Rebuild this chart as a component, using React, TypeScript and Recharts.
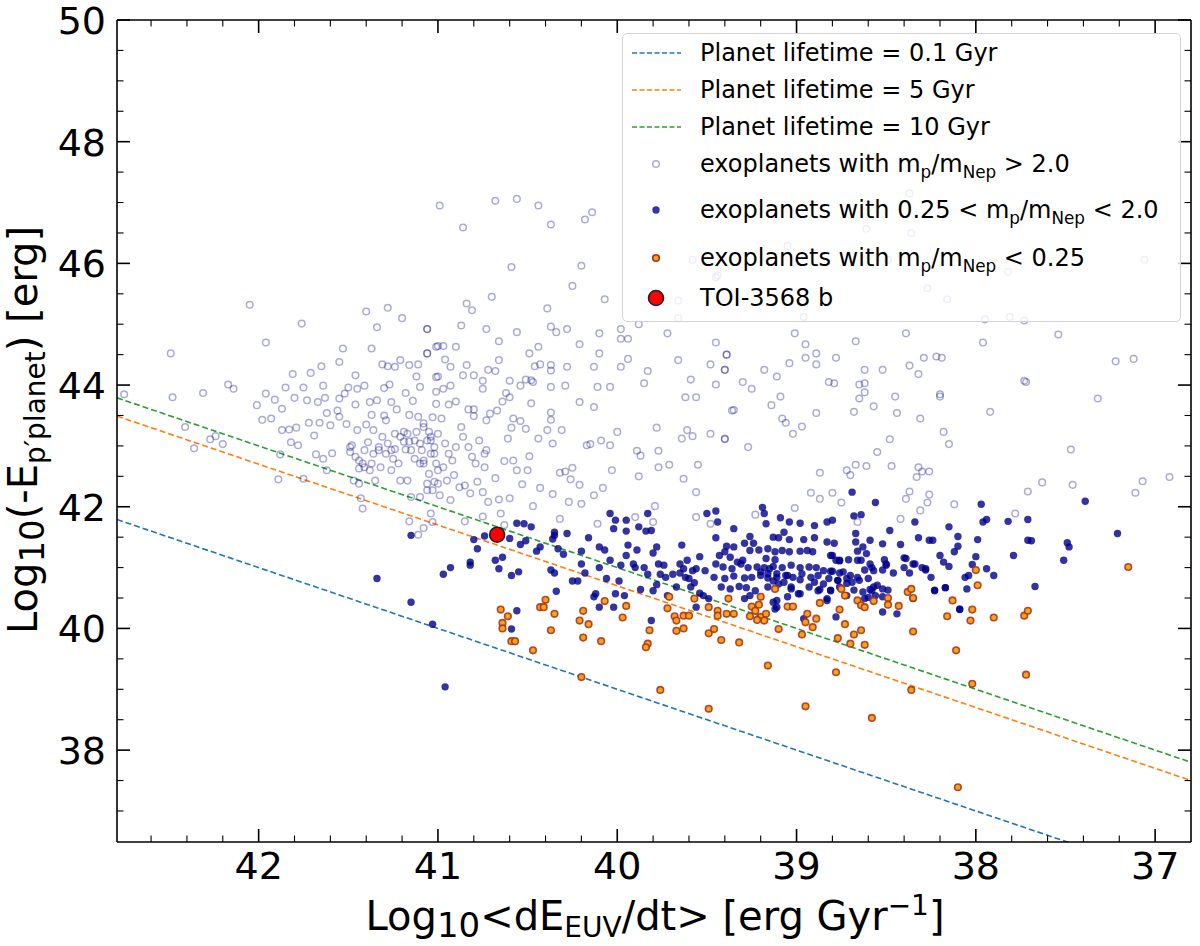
import React from "react";
import { ScatterChart, Scatter, XAxis, YAxis, ReferenceLine } from "recharts";

const FONT = "'DejaVu Sans', sans-serif";

const X_DOMAIN: [number, number] = [36.8, 42.79];
const Y_DOMAIN: [number, number] = [36.49, 50];
const xMajor = [42, 41, 40, 39, 38, 37];
const xTicks = [42.6, 42.4, 42.2, 42, 41.8, 41.6, 41.4, 41.2, 41, 40.8, 40.6, 40.4, 40.2, 40, 39.8, 39.6, 39.4, 39.2, 39, 38.8, 38.6, 38.4, 38.2, 38, 37.8, 37.6, 37.4, 37.2, 37];
const yMajor = [38, 40, 42, 44, 46, 48, 50];
const yTicks = [37, 37.5, 38, 38.5, 39, 39.5, 40, 40.5, 41, 41.5, 42, 42.5, 43, 43.5, 44, 44.5, 45, 45.5, 46, 46.5, 47, 47.5, 48, 48.5, 49, 49.5, 50];

// planet lifetime lines: end points
const lifetimeLines = [
  { label: "Planet lifetime = 0.1 Gyr", color: "#1f77b4", from: [42.79, 41.79], to: [36.8, 35.8] },
  { label: "Planet lifetime = 5 Gyr", color: "#ff7f0e", from: [42.79, 43.49], to: [36.8, 37.5] },
  { label: "Planet lifetime = 10 Gyr", color: "#2ca02c", from: [42.79, 43.79], to: [36.8, 37.8] },
];

// m_p/m_Nep > 2.0
const lightPts: [number, number][] = [
  [42.75,43.85],[42.49,44.52],[42.48,43.8],[42.41,43.31],[42.36,42.96],[42.31,43.87],[42.27,43.11],[42.24,43.16],[42.2,43.03],[42.17,44.01],
  [42.14,43.94],[42.05,45.32],[42.01,43.67],[41.98,43.43],[41.96,44.7],[41.96,43.86],[41.93,43.45],[41.91,43.76],[41.89,42.45],[41.88,42.86],
  [41.87,43.26],[41.87,43.61],[41.85,43.96],[41.83,43.27],[41.82,43.06],[41.81,44.18],[41.8,43.79],[41.79,43.3],[41.78,43.01],[41.76,45.01],
  [41.75,43.96],[41.75,42.46],[41.73,43.75],[41.72,43.38],[41.71,44.2],[41.69,43.17],[41.68,42.86],[41.67,43.72],[41.66,43.38],[41.65,44.31],
  [41.64,43.99],[41.64,42.79],[41.63,43.79],[41.62,42.6],[41.62,43.54],[41.6,43.34],[41.59,42.88],[41.56,43.58],[41.55,44.38],[41.55,43.78],
  [41.55,43.48],[41.53,44.6],[41.52,43.86],[41.51,43.36],[41.5,43.96],[41.49,42.9],[41.48,43.01],[41.47,42.43],[41.46,44.16],[41.46,43.68],
  [41.45,43.94],[41.45,43.26],[41.44,42.76],[41.44,42.38],[41.43,42.14],[41.42,41.97],[41.41,42.65],[41.41,43.99],[41.4,45.21],[41.4,43.35],
  [41.39,43.06],[41.38,43.72],[41.37,44.6],[41.37,43.51],[41.36,43.26],[41.35,42.43],[41.34,44.95],[41.34,43.75],[41.33,42.98],[41.31,44.34],
  [41.3,43.95],[41.3,43.5],[41.29,42.87],[41.28,45.27],[41.28,44.31],[41.27,44.01],[41.26,43.72],[41.24,43.2],[41.24,44.3],[41.23,43.6],
  [41.21,44.41],[41.2,45.1],[41.19,43.23],[41.18,43.87],[41.18,42.94],[41.16,44.33],[41.16,43.51],[41.14,43.74],[41.13,43.09],[41.12,44.14],
  [41.11,43.48],[41.11,44.34],[41.1,43.97],[41.1,42.71],[41.08,43.37],[41.06,44.92],[41.06,44.52],[41.04,43.15],[41.03,43.47],[41.01,44.63],
  [41.01,44.13],[41.04,41.89],
  [41.49,42.98],[41.46,42.82],[41.44,42.63],[41.42,42.71],[41.41,42.93],[41.38,42.6],[41.36,42.87],[41.33,42.93],[41.31,43.15],[41.29,43.42],
  [41.28,43.04],[41.26,42.93],[41.25,42.79],[41.24,42.95],[41.22,42.71],[41.21,43.15],[41.19,43.07],[41.17,43.2],[41.16,43.07],[41.15,42.93],
  [41.13,42.79],[41.12,43.23],[41.1,43.04],[41.09,42.93],[41.08,42.76],[41.06,43.09],[41.05,43.23],[41.04,42.87],[41.02,42.98],[41.01,42.71],
  [41.17,42.43],[41.21,42.43],[41.26,42.6],[41.32,42.65],[41.37,42.71],[41.06,42.38],[41.03,42.27],[41.0,42.38],[41.1,42.16],[41.15,42.16],
  [40.99,46.95],[40.86,46.59],[40.68,47.03],[40.56,47.06],[40.44,46.95],[40.37,46.64],[40.18,46.72],[40.14,46.84],[40.59,45.94],[40.2,45.96],
  [40.25,45.63],[40.7,45.45],[40.84,45.34],[40.81,45.23],[40.39,45.26],[40.07,45.41],[41.06,44.92],[40.87,44.98],[40.73,44.92],[40.56,44.87],
  [40.37,44.96],[40.34,44.87],[40.28,44.92],[40.1,44.85],[39.98,44.92],[39.88,45.0],[39.72,44.85],[41.0,44.64],[40.97,44.64],[40.9,44.63],
  [40.66,44.72],[40.44,44.63],[40.21,44.67],[39.98,44.76],[39.94,44.76],[39.45,44.7],[41.06,44.52],[40.96,44.42],[40.93,44.3],[40.84,44.33],
  [40.66,44.41],[40.49,44.52],[40.46,44.31],[40.43,44.34],[40.37,44.33],[40.37,44.24],[40.28,44.3],[40.13,44.3],[40.1,44.52],[39.98,44.3],
  [39.94,44.43],[39.83,44.23],[39.66,44.41],[39.48,44.34],[39.4,44.25],[39.39,44.5],[41.0,44.14],[40.86,44.16],[40.8,44.16],[40.72,44.25],
  [40.68,44.23],[40.75,44.07],[40.75,43.94],[40.6,44.07],[40.54,43.99],[40.51,44.09],[40.48,44.08],[40.47,44.05],[40.37,43.97],[40.29,43.99],
  [40.11,43.97],[40.04,43.97],[39.85,44.03],[39.59,44.09],[39.45,44.01],[39.62,43.8],[39.56,43.8],[39.36,43.58],[41.01,43.89],[40.97,43.94],
  [40.93,43.99],[41.01,43.69],[40.94,43.68],[40.9,43.73],[40.62,43.87],[40.6,43.8],[40.64,43.73],[40.67,43.58],[40.73,43.42],[40.71,43.53],
  [40.83,43.6],[40.8,43.6],[40.8,43.49],[40.48,43.7],[40.37,43.55],[40.37,43.43],[40.21,43.72],[40.13,43.64],[40.58,43.45],[40.54,43.41],
  [40.59,43.3],[40.51,43.28],[40.44,43.12],[40.39,43.26],[40.31,43.26],[40.36,43.04],[40.17,43.01],[40.15,43.03],[40.09,43.09],[40.04,43.01],
  [40.0,43.23],[39.89,42.92],[39.87,42.84],[39.78,43.3],[39.77,42.92],[39.64,43.12],[39.61,43.26],[39.58,43.16],[39.48,43.2],[39.4,43.12],
  [39.77,42.65],[39.71,42.69],[39.55,42.69],[39.63,42.46],[39.88,42.5],[40.03,42.6],[40.25,42.64],[40.29,42.58],[40.32,42.56],[40.21,42.36],
  [40.26,42.45],[40.36,42.21],[40.43,42.31],[40.5,42.6],[40.56,42.6],[40.49,42.83],[40.58,42.76],[40.61,43.12],[40.68,42.47],[40.63,42.75],
  [40.53,42.37],[40.08,42.31],[40.13,42.19],[40.2,42.05],[40.27,42.08],[39.56,42.24],[39.79,42.01],[40.6,42.14],[40.66,42.12],[40.47,42.01],
  [40.72,42.08],
  [41.08,43.31],[41.04,43.09],[41.0,43.2],[40.98,43.45],[40.96,43.04],[40.94,42.87],[40.92,42.76],[40.9,42.98],[40.87,43.31],[40.86,43.15],
  [40.83,42.98],[40.81,42.82],[40.79,42.71],[40.77,43.09],[40.74,42.87],[41.08,42.71],[41.05,42.54],[41.02,42.41],[41.0,42.6],[40.97,42.65],
  [40.95,42.43],[40.91,42.52],[40.88,42.32],[40.85,42.35],[40.82,42.22],[40.78,42.41],[40.75,42.24],[41.06,42.27],[40.99,42.19],[40.93,42.11],
  [40.74,42.65],[40.73,42.93],[41.02,42.87],
  [39.01,44.85],[38.39,44.85],[37.96,44.7],[37.54,44.83],[38.67,44.72],[39.39,44.5],[38.95,44.67],[38.89,44.52],[38.95,44.45],[38.78,44.45],
  [39.04,44.36],[38.89,44.34],[38.29,44.45],[38.22,44.47],[38.19,44.45],[38.37,44.32],[38.32,44.18],[37.22,44.39],[37.12,44.43],[39.4,44.25],
  [39.18,44.25],[39.11,44.14],[38.62,44.25],[38.52,44.25],[39.3,44.05],[39.25,43.94],[38.82,44.05],[38.79,44.03],[38.65,44.01],[38.62,44.03],
  [38.62,43.88],[38.65,43.78],[39.09,43.81],[38.45,43.81],[38.2,43.85],[38.2,43.81],[37.73,44.07],[37.72,44.05],[37.32,43.78],[39.35,43.59],
  [39.14,43.67],[38.89,43.54],[38.68,43.56],[38.57,43.65],[38.44,43.54],[38.31,43.45],[37.92,43.56],[39.08,43.45],[39.06,43.38],[38.97,43.32],
  [39.02,43.2],[39.4,43.11],[39.27,42.98],[38.18,43.23],[38.15,43.03],[38.48,43.11],[38.55,42.9],[37.47,42.94],[38.67,42.69],[38.61,42.67],
  [38.47,42.67],[38.72,42.6],[38.7,42.52],[38.87,42.56],[38.32,42.65],[38.3,42.58],[38.26,42.58],[38.33,42.49],[37.63,42.4],[37.46,42.36],
  [37.07,42.42],[36.92,42.49],[38.92,42.23],[38.87,42.13],[38.8,42.23],[38.75,42.07],[38.37,42.25],[38.39,42.13],[38.26,42.2],[38.27,42.07],
  [38.31,41.94],[38.12,42.04],[37.71,42.25],[37.11,42.23],[37.78,41.89],[39.01,41.98],[39.23,41.87],[38.42,41.8],
  [38.96,45.12],[37.95,45.08],[37.81,45.12],[37.73,45.06],
  [41.16,41.76],[41.11,41.54],[41.08,41.65],[41.03,41.75],[40.85,41.76],[40.75,41.84],[40.65,41.89],[40.63,41.7],[40.32,41.8],[40.11,41.72],
  [39.9,41.83],[39.8,41.75],[39.56,41.83],[39.48,41.72],[38.66,41.75],
  [38.37,47.15],[38.61,46.57],[38.36,46.5],[39.05,46.29],[39.58,46.06],[38.49,46.06],[37.82,45.86],[37.06,46.06],[38.27,45.59],[38.16,45.41],
  [39.66,45.39],[39.45,45.77],[39.44,45.8],[39.66,45.1],
];

// 0.25 < m_p/m_Nep < 2.0
const darkPts: [number, number][] = [
  [41.15,41.53],[40.8,41.46],[40.78,41.31],[40.74,41.52],[40.82,41.09],[40.82,41.04],[40.93,41.0],[40.97,40.89],[40.68,41.12],[40.66,40.98],
  [40.64,41.17],[40.59,40.87],[40.55,40.93],[40.6,41.48],[40.56,41.73],[40.52,41.72],[40.48,41.67],[40.54,41.38],[40.51,41.44],[40.43,41.34],
  [40.45,41.27],[40.35,41.58],[40.35,41.53],[40.36,41.47],[40.28,41.56],[40.33,41.31],[40.3,41.22],[40.37,40.96],[40.35,40.91],[40.34,40.61],
  [40.25,40.78],[40.22,40.78],[40.2,41.27],[40.2,41.06],[40.16,41.49],[40.18,40.91],[40.13,40.52],[40.12,40.57],[40.1,40.35],[40.1,41.0],
  [40.1,41.34],[40.07,41.29],[40.06,40.82],[40.04,41.12],[40.02,40.35],[40.01,40.57],[40.04,41.89],[40.01,41.78],[39.95,41.78],[40.02,41.64],
  [39.95,41.6],[39.95,41.2],[39.94,41.37],[39.89,41.29],[39.98,41.04],[39.91,41.06],[39.99,40.78],[39.96,40.54],[39.88,41.67],[39.84,41.6],
  [39.83,41.89],[39.81,41.61],[39.9,41.0],[39.85,41.0],[39.83,40.89],[39.87,40.64],[39.8,40.62],[39.8,41.24],[39.78,41.34],[39.77,41.06],
  [39.74,41.04],[39.78,40.72],[39.76,40.89],[39.72,40.54],[39.81,40.13],[39.73,40.84],[39.69,40.89],[39.67,40.68],[39.64,41.37],[39.65,41.06],
  [39.63,40.98],[39.65,40.91],[39.62,40.84],[39.6,40.82],[39.61,41.12],[39.58,40.95],[39.56,40.98],[39.54,41.18],[39.57,40.75],[39.59,40.68],
  [39.51,40.95],[39.54,40.58],[39.5,41.89],[39.52,40.54],[39.56,40.35],[39.49,40.49],[41.15,40.43],[41.03,40.07],[40.96,39.04],[40.56,40.29],
  [40.59,39.99],[41.34,40.82],
  [39.45,41.93],[39.44,41.75],[39.19,41.99],[39.18,41.89],[39.17,41.72],[39.09,41.82],[39.04,41.75],[38.98,41.73],[38.9,41.69],[38.83,41.75],
  [38.8,41.78],[38.69,42.24],[38.68,41.85],[38.64,41.87],[38.56,42.07],[38.34,41.75],[38.48,41.61],[38.42,41.38],[38.32,41.49],[38.26,41.45],
  [38.24,41.45],[38.15,41.67],[38.1,41.51],[38.1,41.35],[38.12,41.26],[37.97,42.04],[37.94,41.79],[37.96,41.75],[37.82,41.76],[37.71,41.79],
  [37.99,41.46],[38.0,41.18],[38.02,41.05],[38.2,41.2],[38.18,41.09],[38.15,41.02],[37.79,41.2],[37.94,40.98],[37.9,40.87],[38.06,40.84],
  [38.04,40.87],[38.17,40.67],[38.23,40.62],[38.05,40.65],[38.09,40.32],[39.35,41.64],[39.45,41.49],[39.26,41.51],[39.29,41.4],[39.24,41.4],
  [39.39,41.35],[39.35,41.34],[39.13,41.5],[39.1,41.49],[39.07,41.58],[39.04,41.46],[38.96,41.46],[38.9,41.49],[38.83,41.42],[38.79,41.4],
  [38.67,41.56],[38.67,41.42],[38.63,41.34],[38.59,41.45],[38.52,41.39],[39.26,41.28],[39.21,41.29],[39.16,41.31],[39.12,41.26],[39.08,41.28],
  [39.04,41.26],[39.43,41.2],[39.4,41.26],[39.37,41.17],[39.33,41.09],[39.3,41.12],[38.98,41.27],[38.94,41.28],[38.91,41.26],[38.81,41.2],
  [38.78,41.12],[38.76,41.12],[38.66,41.27],[38.61,41.23],[38.66,41.12],[38.51,41.13],[38.5,41.06],[38.39,41.15],[38.35,41.06],[38.4,41.0],
  [38.3,41.0],[38.28,40.96],[38.37,40.91],[38.46,40.91],
  [39.45,41.06],[39.41,41.01],[39.36,40.98],[39.31,41.06],[39.27,41.0],[39.22,41.01],[39.18,41.0],[39.13,41.02],[39.08,41.0],[39.03,41.04],
  [38.98,41.0],[38.93,41.01],[38.89,41.0],[38.85,40.95],[38.8,40.94],[38.76,40.91],[38.7,40.87],[38.66,40.84],[38.62,40.96],[38.58,41.0],
  [38.52,40.96],[39.46,40.84],[39.4,40.82],[39.35,40.86],[39.29,40.83],[39.25,40.84],[39.2,40.87],[39.16,40.83],[39.11,40.84],[39.06,40.87],
  [39.02,40.84],[38.98,40.8],[38.92,40.84],[38.88,40.87],[38.82,40.82],[38.77,40.79],[38.72,40.82],[38.6,40.82],[38.57,40.68],
  [39.42,40.68],[39.37,40.65],[39.32,40.69],[39.28,40.67],[39.23,40.62],[39.16,40.68],[39.1,40.73],[39.03,40.65],[38.98,40.57],[38.93,40.68],
  [38.88,40.62],[38.81,40.62],[38.76,40.68],[38.72,40.54],[38.58,40.62],[38.52,40.65],[38.52,40.52],
  [39.29,40.49],[39.26,40.54],[39.13,40.43],[39.11,40.35],[39.05,40.52],[38.96,40.16],[38.83,40.49],[38.78,40.19],[38.62,40.49],[38.52,40.27],
  [38.44,40.24],[38.35,40.49],[37.71,41.45],
  [37.21,41.56],[37.49,41.41],[37.48,41.34],[37.51,41.12],[37.69,41.44],[37.67,40.69],[37.39,42.09],
  [39.2,40.93],[39.16,40.9],[39.11,40.9],[39.05,40.87],[38.97,40.9],[38.9,40.76],[38.85,40.73],[38.81,40.94],[38.74,40.93],[38.69,40.76],
  [38.65,40.79],[38.57,40.95],[39.13,40.78],[39.07,40.76],[39.03,40.68],[38.99,40.57],[38.87,40.64],[38.81,40.63],[38.77,40.79],[38.72,40.74],
  [38.68,40.63],[38.63,40.6],[38.59,40.64],[38.55,40.71],[38.49,40.63],[38.6,40.51],[38.56,40.54],[39.11,40.46],[39.12,40.32],[38.83,40.46],
  [39.17,41.15],[39.12,41.13],[39.15,40.98],[38.8,41.2],[38.76,41.11],[38.71,41.13],[38.64,41.12],[38.59,41.06],[38.5,41.04],[38.4,41.16],
  [38.34,41.06],[38.28,40.98],[38.25,40.84],[38.23,40.63],[38.17,40.67],[38.09,40.31],
];

// m_p/m_Nep < 0.25
const orangePts: [number, number][] = [
  [40.65,40.31],[40.61,40.2],[40.64,40.09],[40.64,40.0],[40.59,39.79],[40.57,39.79],[40.47,39.64],[40.43,40.35],[40.41,40.35],[40.4,40.47],
  [40.35,40.24],[40.37,39.97],[40.21,40.13],[40.16,40.07],[40.19,40.29],[40.19,39.85],[40.2,39.2],[40.09,39.79],[40.07,40.45],[39.97,40.18],
  [39.95,40.37],[39.83,39.75],[39.84,39.69],[39.82,39.97],[39.76,38.99],[39.72,40.33],[39.71,40.52],[39.68,40.2],[39.67,40.13],[39.67,39.96],
  [39.63,40.21],[39.6,40.21],[39.63,40.0],[39.57,40.49],[39.49,40.35],[39.49,39.92],[39.49,38.68],
  [39.12,40.65],[39.2,40.52],[39.25,40.36],[39.21,40.39],[39.23,40.29],[39.26,40.2],[39.2,40.19],[39.17,40.24],[39.18,40.13],[39.22,40.14],
  [39.38,40.49],[39.44,40.29],[39.44,40.21],[39.39,40.24],[39.35,40.24],[39.46,39.99],[39.42,39.81],[39.32,39.77],[39.1,39.99],[39.05,40.36],
  [39.02,40.36],[38.97,39.9],[38.94,40.24],[38.95,40.1],[38.91,40.02],[38.89,40.16],[38.87,40.42],[38.76,40.31],[38.75,40.65],[38.73,40.54],
  [38.73,40.07],[38.77,39.84],[38.7,39.75],[38.68,39.9],[38.64,39.97],[38.62,39.73],[38.66,40.46],[38.64,40.38],[38.62,40.35],[38.57,40.45],
  [38.49,40.5],[38.49,40.39],[38.43,40.37],[38.38,40.6],[38.36,40.65],[38.35,40.5],[38.35,39.95],[39.16,39.39],[38.78,39.28],[38.36,38.99],
  [38.95,38.72],[38.58,38.53],[38.16,40.2],[38.13,40.46],[38.11,39.64],[38.03,40.13],[38.02,40.31],[38.0,40.96],[37.99,40.71],[38.02,39.09],
  [37.9,40.18],[37.73,40.21],[37.71,40.29],[37.72,39.24],[38.1,37.39],[37.15,41.01],
];

const toiPt: [number, number][] = [[40.67, 41.54]];

const toXY = (pts: [number, number][]) => pts.map(([x, y]) => ({ x, y }));

const MAJOR_LEN = 13;
const MINOR_LEN = 6.5;
const TICK_FONT = 38;

function BottomTick(props: any) {
  const { x, y, payload } = props;
  const major = xMajor.includes(payload.value);
  return (
    <g>
      <line x1={x} x2={x} y1={y} y2={y - (major ? MAJOR_LEN : MINOR_LEN)} stroke="#000" strokeWidth={major ? 1.6 : 1.1} />
      {major && (
        <text x={x} y={y + 37} textAnchor="middle" fontSize={TICK_FONT} fontFamily={FONT} fill="#000">
          {payload.value}
        </text>
      )}
    </g>
  );
}

function TopTick(props: any) {
  const { x, y, payload } = props;
  const major = xMajor.includes(payload.value);
  return <line x1={x} x2={x} y1={y} y2={y + (major ? MAJOR_LEN : MINOR_LEN)} stroke="#000" strokeWidth={major ? 1.6 : 1.1} />;
}

function LeftTick(props: any) {
  const { x, y, payload } = props;
  const major = yMajor.includes(payload.value);
  return (
    <g>
      <line x1={x} x2={x + (major ? MAJOR_LEN : MINOR_LEN)} y1={y} y2={y} stroke="#000" strokeWidth={major ? 1.6 : 1.1} />
      {major && (
        <text x={x - 11} y={y + 14} textAnchor="end" fontSize={TICK_FONT} fontFamily={FONT} fill="#000">
          {payload.value}
        </text>
      )}
    </g>
  );
}

function RightTick(props: any) {
  const { x, y, payload } = props;
  const major = yMajor.includes(payload.value);
  return <line x1={x} x2={x - (major ? MAJOR_LEN : MINOR_LEN)} y1={y} y2={y} stroke="#000" strokeWidth={major ? 1.6 : 1.1} />;
}

const LightDot = (p: any) => (
  <circle cx={p.cx} cy={p.cy} r={3.3} fill="none" stroke="#00008b" strokeOpacity={0.33} strokeWidth={1.5} />
);
const DarkDot = (p: any) => <circle cx={p.cx} cy={p.cy} r={3.7} fill="#00008b" fillOpacity={0.8} />;
const OrangeDot = (p: any) => (
  <circle cx={p.cx} cy={p.cy} r={3.3} fill="#f7a21b" stroke="#a3301a" strokeWidth={1.6} strokeOpacity={0.85} />
);
const ToiDot = (p: any) => <circle cx={p.cx} cy={p.cy} r={7.5} fill="#ff0000" stroke="#222" strokeWidth={1.6} />;

const sub = (shift: number, scale = 0.7): React.CSSProperties => ({ fontSize: `${scale}em`, position: "relative", top: shift });
const legendSub = sub(6);

const legendRows = [
  { kind: "line", color: lifetimeLines[0].color, top: 19, text: <>Planet lifetime = 0.1 Gyr</> },
  { kind: "line", color: lifetimeLines[1].color, top: 56, text: <>Planet lifetime = 5 Gyr</> },
  { kind: "line", color: lifetimeLines[2].color, top: 93, text: <>Planet lifetime = 10 Gyr</> },
  { kind: "light", top: 130, text: <>exoplanets with m<span style={legendSub}>p</span>/m<span style={legendSub}>Nep</span> &gt; 2.0</> },
  { kind: "dark", top: 176, text: <>exoplanets with 0.25 &lt; m<span style={legendSub}>p</span>/m<span style={legendSub}>Nep</span> &lt; 2.0</> },
  { kind: "orange", top: 224, text: <>exoplanets with m<span style={legendSub}>p</span>/m<span style={legendSub}>Nep</span> &lt; 0.25</> },
  { kind: "toi", top: 264, text: <>TOI-3568 b</> },
];

function LegendIcon({ kind, color }: { kind: string; color?: string }) {
  return (
    <svg width={60} height={30} style={{ position: "absolute", left: 6, top: -15 }}>
      {kind === "line" && <line x1={3} x2={52} y1={15} y2={15} stroke={color} strokeWidth={1.6} strokeDasharray="5 2.5" />}
      {kind === "light" && <circle cx={27} cy={15} r={3.3} fill="none" stroke="#00008b" strokeOpacity={0.33} strokeWidth={1.5} />}
      {kind === "dark" && <circle cx={27} cy={15} r={3.7} fill="#00008b" fillOpacity={0.8} />}
      {kind === "orange" && <circle cx={27} cy={15} r={3.3} fill="#f7a21b" stroke="#a3301a" strokeWidth={1.6} />}
      {kind === "toi" && <circle cx={27} cy={15} r={7.5} fill="#ff0000" stroke="#222" strokeWidth={1.6} />}
    </svg>
  );
}

export default function App() {
  return (
    <div style={{ position: "absolute", left: 0, top: 0, width: 1200, height: 946, background: "#fff", fontFamily: FONT, overflow: "hidden" }}>
      <ScatterChart width={1200} height={946} margin={{ top: 19, right: 8, bottom: 64, left: 57 }}>
        <XAxis
          xAxisId="bottom" type="number" dataKey="x" domain={X_DOMAIN} reversed allowDataOverflow
          ticks={xTicks} interval={0} tickLine={false} tickSize={0} tickMargin={0} height={40}
          axisLine={{ stroke: "#000", strokeWidth: 1.6 }} tick={(p: any) => <BottomTick {...p} />}
        />
        <XAxis
          xAxisId="top" orientation="top" type="number" dataKey="x" domain={X_DOMAIN} reversed allowDataOverflow
          ticks={xTicks} interval={0} tickLine={false} tickSize={0} tickMargin={0} height={1}
          axisLine={{ stroke: "#000", strokeWidth: 1.6 }} tick={(p: any) => <TopTick {...p} />}
        />
        <YAxis
          yAxisId="left" type="number" dataKey="y" domain={Y_DOMAIN} allowDataOverflow
          ticks={yTicks} interval={0} tickLine={false} tickSize={0} tickMargin={0} width={60}
          axisLine={{ stroke: "#000", strokeWidth: 1.6 }} tick={(p: any) => <LeftTick {...p} />}
        />
        <YAxis
          yAxisId="right" orientation="right" type="number" dataKey="y" domain={Y_DOMAIN} allowDataOverflow
          ticks={yTicks} interval={0} tickLine={false} tickSize={0} tickMargin={0} width={1}
          axisLine={{ stroke: "#000", strokeWidth: 1.6 }} tick={(p: any) => <RightTick {...p} />}
        />
        {lifetimeLines.map((l) => (
          <ReferenceLine
            key={l.label} xAxisId="bottom" yAxisId="left" ifOverflow="hidden"
            segment={[{ x: l.from[0], y: l.from[1] }, { x: l.to[0], y: l.to[1] }]}
            stroke={l.color} strokeWidth={1.6} strokeDasharray="6 3"
          />
        ))}
        <Scatter xAxisId="top" yAxisId="right" data={[]} isAnimationActive={false} />
        <Scatter xAxisId="bottom" yAxisId="left" data={toXY(lightPts)} shape={LightDot} isAnimationActive={false} />
        <Scatter xAxisId="bottom" yAxisId="left" data={toXY(darkPts)} shape={DarkDot} isAnimationActive={false} />
        <Scatter xAxisId="bottom" yAxisId="left" data={toXY(orangePts)} shape={OrangeDot} isAnimationActive={false} />
        <Scatter xAxisId="bottom" yAxisId="left" data={toXY(toiPt)} shape={ToiDot} isAnimationActive={false} />
      </ScatterChart>

      {/* legend box, semi-transparent over the points */}
      <div
        style={{
          position: "absolute", left: 622, top: 33, width: 557, height: 287,
          background: "rgba(255,255,255,0.8)", border: "1px solid #d4d4d4", borderRadius: 5,
          fontSize: 24, color: "#000",
        }}
      >
        {legendRows.map((r, i) => (
          <div key={i} style={{ position: "absolute", left: 0, top: r.top, width: "100%" }}>
            <LegendIcon kind={r.kind} color={(r as any).color} />
            <div style={{ position: "absolute", left: 77, top: -15, lineHeight: "30px", whiteSpace: "nowrap" }}>{r.text}</div>
          </div>
        ))}
      </div>

      {/* axis titles */}
      <div style={{ position: "absolute", left: 255, top: 896, width: 800, textAlign: "center", fontSize: 40, lineHeight: "40px", whiteSpace: "nowrap" }}>
        Log<span style={sub(7, 0.85)}>10</span>&lt;dE<span style={sub(7)}>EUV</span>/dt&gt; [erg Gyr<span style={sub(-15)}>−1</span>]
      </div>
      <div
        style={{
          position: "absolute", left: 23 - 300, top: 430 - 20, width: 600, height: 40, textAlign: "center",
          fontSize: 40, lineHeight: "40px", whiteSpace: "nowrap", transform: "rotate(-90deg)", transformOrigin: "50% 50%",
        }}
      >
        Log<span style={sub(7, 0.85)}>10</span>(-E<span style={sub(8)}>p′planet</span>) [erg]
      </div>
    </div>
  );
}
